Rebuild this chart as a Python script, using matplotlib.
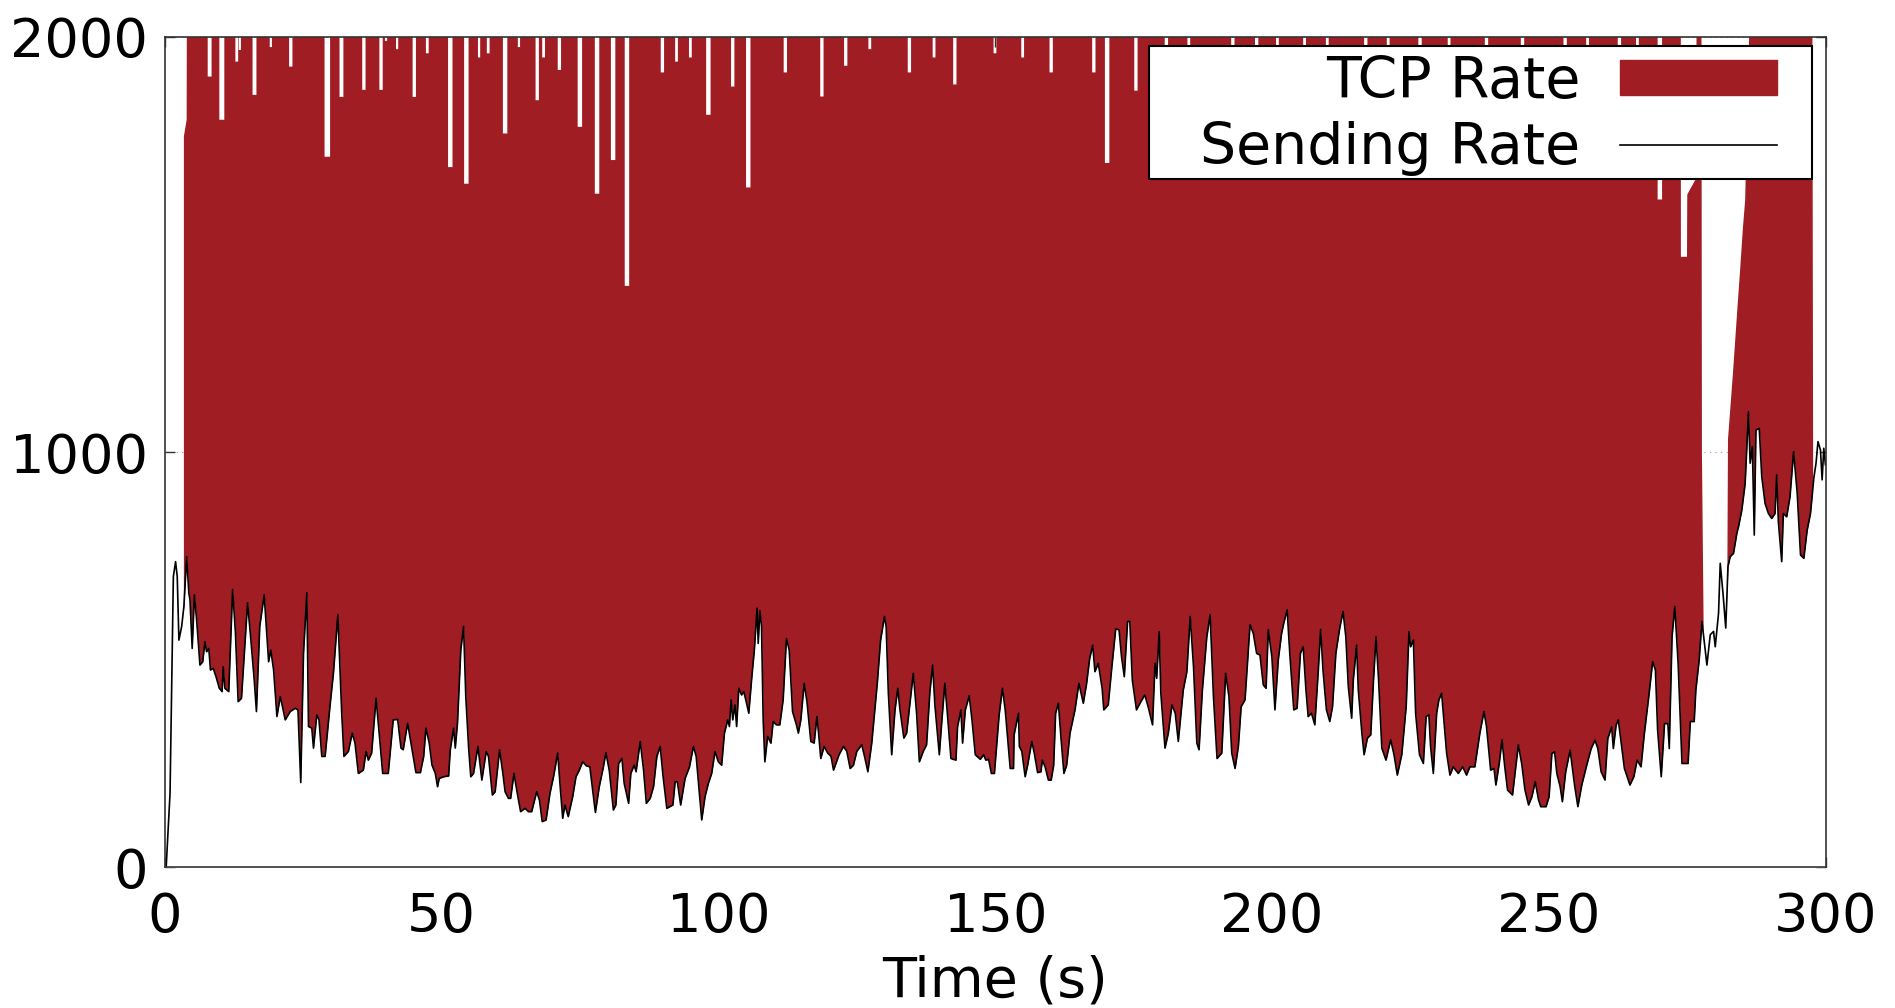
import matplotlib
matplotlib.use("Agg")
import matplotlib.pyplot as plt
from matplotlib.patches import Patch, Rectangle
from matplotlib.lines import Line2D

# sending rate (time in s, rate)
send_t = [0.3, 1.0, 1.6, 2.0, 2.3, 2.6, 3.1, 3.5, 4.0, 4.4, 4.6, 5.0, 5.4, 5.8, 6.4, 6.9, 7.3, 7.6, 8.0, 8.3,
          8.8, 9.3, 9.9, 10.4, 10.6, 10.9, 11.6, 12.3, 12.8, 13.3, 13.9, 15.0, 15.6, 16.2, 16.6, 17.2, 18.0, 18.8,
          19.2, 19.7, 20.3, 20.9, 21.3, 21.8, 22.7, 23.6, 24.1, 24.6, 25.1, 25.7, 26.0, 26.6, 26.9, 27.5, 27.9,
          28.4, 29.0, 29.9, 30.5, 31.3, 32.0, 32.4, 33.2, 33.9, 34.4, 35.0, 35.9, 36.4, 36.8, 37.4, 38.2, 39.4,
          40.4, 41.3, 42.1, 42.7, 43.1, 43.9, 44.6, 45.4, 46.2, 46.8, 47.2, 47.8, 48.3, 48.9, 49.3, 49.6,
          50.4, 51.3, 51.6, 52.2, 52.5, 52.9, 53.5, 54.0, 54.4, 54.9, 55.3, 55.8, 56.6, 57.3, 58.1, 58.5, 59.2,
          59.7, 60.5, 61.1, 61.5, 62.1, 62.5, 63.1, 63.7, 64.3, 65.1, 65.7, 66.3, 67.2, 67.7, 68.2, 68.9, 69.6,
          70.3, 71.0, 71.4, 71.9, 72.3, 72.9, 73.7, 74.3, 74.9, 75.5, 76.2, 76.8, 77.8, 78.5, 79.25, 79.7, 80.3,
          81.05, 81.5, 82.0, 82.6, 83.0, 83.8, 84.2, 84.8, 85.15, 85.9, 86.5, 87.0, 87.7, 88.3, 88.9, 89.5, 90.0,
          90.7, 91.8, 92.2, 92.6, 93.2, 94.0, 94.8, 95.5, 96.0, 97.0, 97.6, 98.2, 98.8, 99.4,
          100.0, 100.6, 101.1, 101.7, 102.0, 102.3, 102.6, 103.0, 103.3, 103.7, 104.2, 104.6, 105.1, 105.5,
          106.0, 106.5, 107.0, 107.2, 107.5, 107.8, 108.1, 108.4, 108.9, 109.5, 109.9, 110.5, 111.1, 111.7,
          112.3, 112.8, 113.4, 114.1, 114.45, 114.9, 115.5, 116.0, 116.7, 117.3, 117.8, 118.1, 118.5, 119.1,
          119.75, 120.35, 120.8, 121.8, 122.6, 123.2, 123.8, 124.4, 125.0, 125.9, 126.4, 127.0, 127.7, 128.2,
          128.7, 129.3, 130.0, 130.3, 130.7, 131.3, 131.9, 132.4, 132.8, 133.5, 134.0, 134.6, 135.2, 135.8,
          136.3, 137.0, 137.6, 138.2, 138.7, 139.1, 139.9, 140.3, 140.9, 141.4, 142.0, 142.9, 143.2, 143.8,
          144.1, 144.6, 145.3, 145.8, 146.4, 147.3, 147.9, 148.3, 148.8, 149.3, 149.85,
          150.7, 151.3, 151.8, 152.7, 153.3, 153.4, 154.2, 154.35, 154.8, 155.4, 155.85, 156.6, 157.05, 157.65,
          158.25, 158.5, 159.0, 159.6, 160.1, 160.55, 160.9, 161.4, 161.9, 162.4, 162.9, 163.5, 164.4, 165.1,
          165.9, 166.5, 167.05, 167.6, 168.0, 168.6, 169.3, 169.6, 170.4, 171.0, 171.75, 172.35, 172.8, 173.3,
          173.9, 174.3, 174.75, 175.5, 176.3, 177.0, 177.6, 178.4, 178.85, 179.15, 179.6, 179.9, 180.65, 181.25,
          181.9, 182.5, 183.05, 183.95, 184.6, 185.2, 185.8, 186.4, 186.8, 187.4, 188.2, 188.8, 189.4, 190.05,
          190.9, 191.6, 192.2, 192.7, 193.3, 193.9, 194.4, 195.1, 196.0, 196.6, 197.2, 197.8, 198.4, 198.9,
          199.3, 199.95, 200.5,
          201.1, 201.7, 202.1, 202.7, 203.2, 203.9, 204.5, 205.1, 205.6, 206.1, 206.5, 207.1, 207.7, 208.3,
          208.75, 209.2, 209.8, 210.4, 210.9, 211.5, 212.2, 212.8, 213.3, 213.75, 214.35, 214.65, 215.25, 215.55,
          216.2, 216.6, 217.2, 217.8, 218.3, 218.75, 219.2, 219.8, 220.55, 221.4, 222.0, 222.6, 223.4, 224.2,
          224.7, 225.0, 225.5, 225.9, 226.6, 227.3, 227.8, 228.3, 228.6, 229.1, 229.7, 230.1, 230.6, 231.0,
          231.5, 232.1, 232.7, 233.6, 234.4, 235.1, 235.7, 236.6, 237.5, 238.25, 238.7, 239.45, 240.05, 240.4,
          241.0, 241.5, 242.0, 242.5, 243.4, 243.85, 244.45, 245.05, 245.65, 246.3, 246.9, 247.5, 248.1, 248.5,
          249.45,
          250.0, 250.5, 251.0, 251.4, 252.0, 252.4, 253.0, 253.8, 254.6, 255.2, 255.9, 256.8, 257.6, 258.3,
          258.8, 259.4, 260.1, 260.6, 261.3, 261.6, 262.1, 262.5, 263.1, 263.6, 264.6, 265.3, 265.9, 266.6,
          267.2, 268.0, 268.7, 269.2, 269.6, 270.25, 270.85, 271.45, 271.7, 272.2, 272.7, 273.3, 274.0, 275.1,
          275.5, 276.2, 276.5, 277.1, 277.6, 278.5, 279.1, 279.7, 280.0, 280.6, 280.9, 281.4, 281.9, 282.3,
          282.7, 283.3, 283.9, 284.2, 284.8, 285.4, 286.0, 286.3, 286.7, 287.05, 287.35, 287.95, 288.4, 289.0,
          289.6, 290.2, 290.8, 291.1, 291.4, 292.0, 292.3, 292.9, 293.5, 294.15, 294.8, 295.4, 296.0, 296.6,
          297.2, 297.8, 298.2, 298.55, 299.0, 299.3, 299.6, 299.9]
send_rate = [0, 178, 700, 736, 700, 547, 580, 628, 748, 660, 644, 527, 656, 596, 487, 495, 543, 519, 527, 475,
             479, 459, 431, 423, 483, 431, 423, 669, 567, 399, 407, 637, 547, 451, 375, 580, 656, 495,
             523, 475, 363, 411, 387, 355, 375, 383, 379, 204, 515, 661, 339, 335, 287, 367, 355,
             267, 267, 391, 467, 608, 371, 267, 279, 323, 299, 226, 234, 279, 258, 275, 407, 226,
             226, 355, 356, 287, 283, 347, 291, 228, 228, 267, 335, 299, 246, 226, 194, 214,
             218, 220, 283, 335, 287, 347, 523, 580, 411, 291, 218, 226, 291, 210, 279, 267, 174,
             182, 283, 226, 182, 166, 166, 226, 178, 134, 142, 134, 134, 182, 162, 110, 114, 178,
             222, 275, 202, 118, 150, 122, 170, 218, 234, 254, 244, 242, 132, 194, 242, 276, 234,
             138, 150, 250, 262, 202, 154, 226, 246, 230, 303, 234, 154, 166, 194, 267, 291, 222,
             142, 150, 206, 206, 150, 214, 242, 291, 267, 114, 170, 202, 226, 279,
             254, 246, 323, 355, 339, 403, 355, 391, 339, 431, 415, 423, 395, 371,
             451, 523, 624, 539, 618, 580, 355, 254, 315, 299, 351, 343, 343, 403,
             551, 523, 375, 343, 323, 355, 443, 399, 303, 299, 363, 323, 262, 291,
             275, 267, 234, 271, 291, 279, 238, 246, 279, 295, 267, 230, 299, 371,
             443, 547, 604, 580, 419, 271, 379, 431, 379, 311, 323, 395, 467, 371,
             254, 279, 295, 423, 487, 391, 271, 343, 443, 363, 262, 258, 339, 379,
             299, 379, 413, 355, 271, 260, 271, 258, 260, 226, 226,
             367, 431, 379, 238, 238, 319, 371, 291, 279, 218, 246, 303, 275, 228,
             230, 258, 242, 210, 210, 246, 371, 395, 307, 226, 246, 323, 379, 443,
             395, 443, 503, 535, 471, 491, 431, 379, 391, 475, 574, 572, 507, 459,
             592, 592, 451, 379, 399, 415, 387, 343, 491, 455, 567, 419, 287, 323,
             391, 371, 303, 427, 471, 604, 483, 299, 283, 427, 555, 608, 411, 262,
             275, 467, 411, 275, 238, 291, 387, 403, 584, 563, 515, 511, 439, 431,
             572, 507, 379,
             499, 563, 588, 620, 511, 379, 383, 515, 531, 427, 363, 371, 343, 467,
             573, 471, 379, 351, 387, 515, 576, 616, 555, 435, 359, 451, 535, 427,
             323, 271, 311, 319, 451, 555, 455, 287, 258, 307, 271, 222, 271, 387,
             567, 531, 547, 371, 271, 250, 363, 367, 291, 226, 371, 403, 419, 355,
             275, 222, 242, 226, 242, 222, 242, 242, 323, 375, 339, 234, 238, 198,
             250, 307, 242, 186, 174, 226, 295, 250, 186, 150, 170, 206, 162, 146,
             146,
             170, 274, 278, 226, 194, 158, 230, 282, 198, 146, 198, 246, 286, 306,
             286, 230, 210, 310, 338, 286, 342, 355, 290, 238, 198, 218, 258, 242,
             322, 411, 495, 475, 330, 218, 346, 346, 286, 555, 628, 491, 250, 250,
             351, 351, 427, 499, 592, 487, 560, 568, 531, 612, 732, 660, 576, 724,
             748, 756, 804, 820, 860, 924, 1097, 973, 1013, 800, 1053, 1057, 941, 876,
             852, 840, 852, 945, 832, 736, 852, 844, 892, 1001, 901, 752, 744, 812,
             852, 937, 973, 1025, 1005, 933, 1009, 969]

# TCP rate is mostly off the top of the scale (4000 here); it only shows
# where it dips below 2000 (the white notches from the top)
tcp_head_t = [3.5, 4.0, 4.3]
tcp_head_rate = [1760, 1800, 4000]

dip_start = [7.8, 9.9, 12.8, 13.4, 15.9, 19.0, 22.5, 28.9, 31.6, 35.7, 38.8, 39.8, 41.8, 44.8, 47.2,
             51.2, 54.1, 56.6, 58.2, 61.1, 63.8, 67.0, 68.2, 71.0, 74.6, 77.7, 80.6, 83.1, 89.6, 92.2,
             94.7, 97.8, 102.3, 105.0, 111.8, 118.4, 122.7, 127.1, 134.2, 138.7, 142.4, 149.7, 154.7,
             159.8, 167.5, 169.8, 175.1, 180.6, 184.7, 192.6, 196.9, 200.7, 205.6, 209.7, 216.6, 220.7,
             226.4, 231.7, 238.4, 244.9, 252.6, 256.7, 262.4, 265.7, 269.6]
dip_end = [8.5, 10.8, 13.3, 13.8, 16.6, 19.4, 23.1, 29.9, 32.3, 36.3, 39.4, 40.2, 42.2, 45.4, 47.7,
           52.0, 54.9, 57.0, 58.7, 61.9, 64.2, 67.6, 68.7, 71.6, 75.4, 78.5, 81.4, 83.9, 90.2, 92.7,
           95.2, 98.6, 102.9, 105.8, 112.4, 119.0, 123.3, 127.6, 134.8, 139.2, 143.0, 150.2, 155.2,
           160.4, 168.1, 170.6, 175.7, 181.2, 185.2, 193.2, 197.5, 201.2, 206.1, 210.2, 217.2, 221.2,
           227.0, 232.2, 239.0, 245.5, 253.2, 257.2, 263.0, 266.2, 270.4]
dip_floor = [1904, 1800, 1940, 1968, 1860, 1975, 1928, 1711, 1855, 1872, 1872, 1990, 1970, 1855, 1960,
             1686, 1646, 1950, 1960, 1767, 1975, 1847, 1950, 1920, 1783, 1622, 1703, 1400, 1914, 1940,
             1950, 1812, 1880, 1637, 1914, 1856, 1930, 1970, 1914, 1950, 1885, 1960, 1950,
             1914, 1914, 1696, 1870, 1914, 1950, 1856, 1900, 1960, 1940, 1950, 1900, 1960,
             1914, 1950, 1928, 1870, 1914, 1960, 1900, 1940, 1608]

tcp_tail_t = [273.75, 273.8, 274.9, 274.95, 276.6, 276.7, 277.35, 277.6, 278.0, 282.1, 282.3, 283.2,
              284.0, 284.5, 285.0, 285.4, 286.3, 286.6, 297.3, 297.7, 300.0]
tcp_tail_rate = [4000, 1470, 1470, 1620, 1660, 4000, 4000, 1000, 450, 450, 1030, 1190,
                 1346, 1440, 1540, 1606, 2100, 4000, 4000, 800, 800]

x_ticks = [0, 50, 100, 150, 200, 250, 300]
y_ticks = [0, 1000, 2000]

red = '#a11d24'

# outline of the TCP area: each dip is a flat-bottomed notch
tcp_t = list(tcp_head_t)
tcp_rate = list(tcp_head_rate)
for s, e, v in zip(dip_start, dip_end, dip_floor):
    tcp_t += [s, s, e, e]
    tcp_rate += [4000, v, v, 4000]
tcp_t += tcp_tail_t
tcp_rate += tcp_tail_rate

fig = plt.figure(figsize=(18.95, 10.08), dpi=100)
ax = fig.add_axes([164.5 / 1895, 1 - 867.3 / 1008, (1826 - 164.5) / 1895, (867.3 - 36.7) / 1008])

ax.fill_between(tcp_t, 0, tcp_rate, color=red, lw=0, zorder=2)
ax.fill_between(send_t, 0, send_rate, color='white', lw=0, zorder=3)
ax.plot(send_t, send_rate, color='black', lw=1.2, zorder=4)

ax.set_xlim(0, 300)
ax.set_ylim(0, 2000)
ax.set_xticks(x_ticks)
ax.set_yticks(y_ticks)
ax.yaxis.grid(True, linestyle=(0, (1, 4)), color='#999999', lw=0.8, zorder=1)
ax.set_axisbelow(True)
ax.tick_params(labelsize=39, direction='in', length=7, width=1, top=True, right=True, color='#333333')
ax.tick_params(axis='x', pad=17)
ax.tick_params(axis='y', pad=12)
for sp in ax.spines.values():
    sp.set_color('#333333')
    sp.set_linewidth(1.2)
    sp.set_zorder(5)
ax.set_xlabel('Time (s)', fontsize=40, labelpad=8)

# legend box drawn by hand, gnuplot style
ax.add_patch(Rectangle((0.5925, 0.8287), 0.3991, 0.1601, transform=ax.transAxes,
                       facecolor='white', edgecolor='black', lw=1.5, zorder=6))
handles = [Patch(facecolor=red, edgecolor=red), Line2D([], [], color='black', lw=1.2)]
leg = ax.legend(handles, ['TCP Rate', 'Sending Rate'], loc='center right',
                bbox_to_anchor=(0.9705, 0.9052), borderaxespad=0, markerfirst=False,
                fontsize=41, handlelength=2.75, handleheight=0.55, handletextpad=0.7,
                labelspacing=0.2, borderpad=0, frameon=False)
leg.set_zorder(10)

fig.savefig('out.png', dpi=100)
